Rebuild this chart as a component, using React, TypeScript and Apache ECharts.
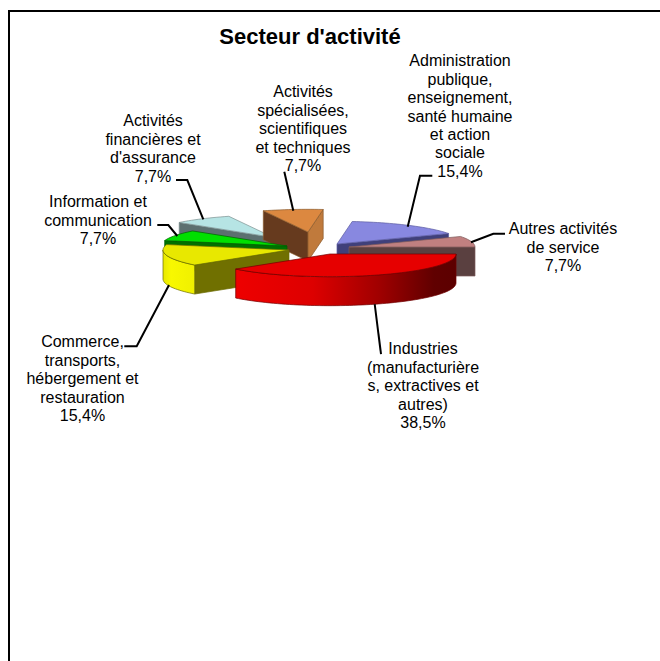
import React, { useEffect, useRef } from "react";
import * as echarts from "echarts";

const chartTitle = "Secteur d'activité";
const sectorNames = [
  "Industries\n(manufacturière\ns, extractives et\nautres)",
  "Commerce,\ntransports,\nhébergement et\nrestauration",
  "Information et\ncommunication",
  "Activités\nfinancières et\nd'assurance",
  "Activités\nspécialisées,\nscientifiques\net techniques",
  "Administration\npublique,\nenseignement,\nsanté humaine\net action\nsociale",
  "Autres activités\nde service",
];
const sectorValues = [38.5, 15.4, 7.7, 7.7, 7.7, 15.4, 7.7];

// Appearance of each slice: top face, first wall, second wall, outer wall stops
const topColors = ["#e60000", "#e8e800", "#00e000", "#b6e4e4", "#dc8840", "#8888e0", "#c08080"];
const cutColors = ["#700000", "#707000", "#007000", "#5c7070", "#663a1e", "#40407a", "#5a4040"];
const endCutColors = ["#700000", "#707000", "#007000", "#5c7070", "#c07a3c", "#40407a", "#5a4040"];
const edgeColors = ["#700000", "#6a6a00", "#006000", "#7c9090", "#8a5a2c", "#5c5ca0", "#7c5a5a"];
const outerStops = [
  [[0, "#ee0000"], [0.35, "#dd0000"], [0.65, "#a00000"], [0.9, "#600000"], [1, "#5c0000"]],
  [[0, "#e8e800"], [0.25, "#f8f800"], [1, "#f0f000"]],
  [[0, "#007000"], [1, "#007000"]],
  [[0, "#5c7070"], [1, "#5c7070"]],
  [[0, "#663a1e"], [1, "#663a1e"]],
  [[0, "#40407a"], [1, "#40407a"]],
  [[0, "#5a4040"], [1, "#5a4040"]],
];
// Layout
const layerOf = [6, 5, 4, 0, 1, 2, 3];
const explodeShift = [[21, 11], [-20, 7], [-22, 3], [-35.5, -5.5], [-1, -11], [28, 1], [40, 4]];
const labelCentres = [[423, 349], [82.5, 342], [98, 202], [153, 121], [303, 92], [460, 61], [563, 229]];
const leaderLines = [
  [[374.7, 304], [381, 354]],
  [[124.3, 346.3], [136.7, 346.3], [169, 285]],
  [[157.3, 225], [168.3, 225], [177.3, 236]],
  [[176, 180], [187.3, 180], [203.3, 219.3]],
  [[284.3, 171.7], [293.3, 210.7]],
  [[432.3, 175.7], [420, 175.7], [407.7, 226.7]],
  [[505, 233.7], [493.3, 233.7], [471, 242.3]],
];

const CX = 309, CY = 243, RADIUS = 126, TILT = 0.18, DEPTH = 29, START = 90;
const FONT = "'Liberation Sans', Arial, sans-serif";
const LINE_HEIGHT = 18.4;
const total = sectorValues.reduce((a, b) => a + b, 0);
const rad = (d: number) => (d * Math.PI) / 180;

function renderSlice(params: any, api: any) {
  const i = params.dataIndex;
  const value = api.value(0);
  let a1 = START;
  for (let k = 0; k < i; k++) a1 += (sectorValues[k] / total) * 360;
  const a2 = a1 + (value / total) * 360;
  const ax = CX + explodeShift[i][0];
  const ay = CY + explodeShift[i][1];
  const rim = (a: number): number[] => [
    ax + RADIUS * Math.sin(rad(a)),
    ay - RADIUS * TILT * Math.cos(rad(a)),
  ];
  const arc = (from: number, to: number): number[][] => {
    const n = Math.max(1, Math.ceil((to - from) / 2));
    const pts: number[][] = [];
    for (let k = 0; k <= n; k++) pts.push(rim(from + ((to - from) * k) / n));
    return pts;
  };
  const down = (p: number[]) => [p[0], p[1] + DEPTH];
  const base = layerOf[i] * 10;
  const edge = { stroke: edgeColors[i], lineWidth: 0.7 };
  const children: any[] = [];
  const wall = (a: number, normal: number, fill: string) => {
    if (Math.cos(rad(normal)) >= 0) return;
    const p = rim(a);
    children.push({
      type: "polygon",
      z2: base + 1,
      shape: { points: [[ax, ay], p, down(p), [ax, ay + DEPTH]] },
      style: { fill, ...edge },
    });
  };
  wall(a1, a1 - 90, cutColors[i]);
  wall(a2, a2 + 90, endCutColors[i]);
  const f1 = Math.max(a1, 90), f2 = Math.min(a2, 270);
  if (f2 > f1) {
    const top = arc(f1, f2);
    children.push({
      type: "polygon",
      z2: base + 2,
      shape: { points: [...top, ...top.slice().reverse().map(down)] },
      style: {
        fill: new echarts.graphic.LinearGradient(
          0, 0, 1, 0,
          outerStops[i].map(([offset, color]) => ({ offset: offset as number, color: color as string })),
        ),
        ...edge,
      },
    });
  }
  children.push({
    type: "polygon",
    z2: base + 3,
    shape: { points: [[ax, ay], ...arc(a1, a2)] },
    style: { fill: topColors[i], ...edge },
  });
  children.push({
    type: "polyline",
    z2: 200,
    shape: { points: leaderLines[i] },
    style: { fill: "none", stroke: "#000", lineWidth: 2 },
  });
  const pct = value.toFixed(1).replace(".", ",") + "%";
  children.push({
    type: "text",
    z2: 201,
    x: labelCentres[i][0],
    y: labelCentres[i][1] - LINE_HEIGHT / 2,
    style: {
      text: sectorNames[i] + "\n" + pct,
      fill: "#000",
      font: `16px ${FONT}`,
      lineHeight: LINE_HEIGHT,
      textAlign: "center",
      textVerticalAlign: "top",
    },
  });
  return { type: "group", children };
}

export default function App() {
  const ref = useRef<HTMLDivElement>(null);
  useEffect(() => {
    const chart = echarts.init(ref.current!, undefined, { renderer: "svg" });
    chart.setOption({
      animation: false,
      backgroundColor: "#fff",
      title: {
        text: chartTitle,
        left: 305,
        top: 20,
        textAlign: "center",
        textStyle: { fontFamily: FONT, fontSize: 22, fontWeight: "bold", color: "#000" },
      },
      graphic: [
        { type: "rect", left: 8, top: 10, shape: { width: 2, height: 651 }, style: { fill: "#000" } },
        { type: "rect", left: 8, top: 10, shape: { width: 652, height: 2 }, style: { fill: "#000" } },
      ],
      series: [
        {
          type: "custom",
          coordinateSystem: "none",
          silent: true,
          data: sectorValues.map((v) => [v]),
          renderItem: renderSlice,
        },
      ],
    });
    return () => chart.dispose();
  }, []);
  return <div ref={ref} style={{ position: "fixed", left: 0, top: 0, width: 660, height: 661 }} />;
}
